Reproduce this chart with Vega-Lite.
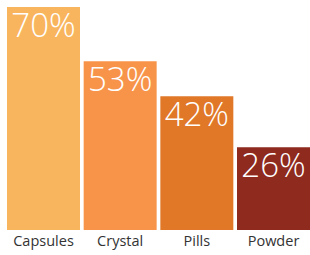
{
  "$schema": "https://vega.github.io/schema/vega-lite/v6.json",
  "width": 303,
  "height": 223,
  "padding": {"left": 7, "top": 7, "right": 0, "bottom": 25},
  "autosize": {"type": "none"},
  "background": "white",
  "config": {"view": {"stroke": null}},
  "data": {"values": [
    {"type": "Capsules", "pct": 70, "label": "70%"},
    {"type": "Crystal", "pct": 53, "label": "53%"},
    {"type": "Pills", "pct": 42, "label": "42%"},
    {"type": "Powder", "pct": 26, "label": "26%"}
  ]},
  "encoding": {
    "x": {"field": "type", "type": "nominal", "sort": null,
      "scale": {"paddingInner": 0.048, "paddingOuter": 0},
      "axis": {"title": null, "labelAngle": 0, "ticks": false, "domain": false, "labelPadding": 4,
        "labelFont": "Open Sans", "labelFontSize": 14.5, "labelColor": "#333333"}},
    "y": {"field": "pct", "type": "quantitative", "scale": {"domain": [0, 70], "nice": false}, "axis": null}
  },
  "layer": [
    {"mark": {"type": "bar"},
     "encoding": {"color": {"field": "type", "type": "nominal", "legend": null,
       "scale": {"domain": ["Capsules", "Crystal", "Pills", "Powder"], "range": ["#F9B55D", "#F7944A", "#E07828", "#8E2A1E"]}}}},
    {"mark": {"type": "text", "baseline": "alphabetic", "align": "center", "dy": 30, "font": "Open Sans", "fontSize": 33, "fontWeight": 300, "color": "white"},
     "encoding": {"text": {"field": "label"}}}
  ]
}
